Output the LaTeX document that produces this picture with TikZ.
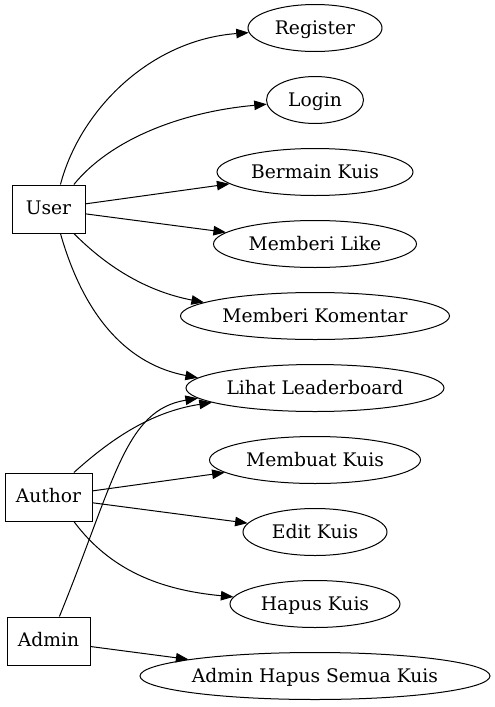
\documentclass[tikz,border=0pt]{standalone}
\usepackage{fontspec}
\setmainfont{DejaVu Serif}
\usetikzlibrary{shapes.geometric,arrows.meta}
\tikzset{
  actor/.style={draw, rectangle, line width=1pt, inner sep=0pt, minimum height=48pt, text height=13.5pt, text depth=2pt, font=\fontsize{18.7}{22}\selectfont},
  usecase/.style={draw, ellipse, line width=1pt, inner sep=0pt, minimum height=47pt, text height=14pt, text depth=2pt, font=\fontsize{18.7}{22}\selectfont},
  arr/.style={line width=1pt, -{Triangle[length=12.5pt,width=9.5pt]}}
}
\begin{document}
\begin{tikzpicture}[x=1pt,y=-1pt]
\useasboundingbox (0,0) rectangle (495,707);
% actors
\node[actor, minimum width=73pt] (user) at (48.5,209) {User};
\node[actor, minimum width=87pt] (author) at (48.5,497) {Author};
\node[actor, minimum width=83pt] (admin) at (48.5,641) {Admin};
% use cases
\node[usecase, minimum width=134pt] (reg) at (315,28) {Register};
\node[usecase, minimum width=97pt] (login) at (315,100) {Login};
\node[usecase, minimum width=196pt] (main) at (315,172) {Bermain Kuis};
\node[usecase, minimum width=203pt] (like) at (315,244) {Memberi Like};
\node[usecase, minimum width=269pt] (kom) at (315,316) {Memberi Komentar};
\node[usecase, minimum width=258pt] (lihat) at (315,388) {Lihat Leaderboard};
\node[usecase, minimum width=211pt] (buat) at (315,460) {Membuat Kuis};
\node[usecase, minimum width=144pt] (edit) at (315,532) {Edit Kuis};
\node[usecase, minimum width=170pt] (hapus) at (315,604) {Hapus Kuis};
\node[usecase, minimum width=350pt] (semua) at (315,676) {Admin Hapus Semua Kuis};
% user edges
\draw[arr] (user.64) .. controls (80,110) and (150,40) .. (reg.184);
\draw[arr] (user.44) .. controls (110,140) and (180,112) .. (login.185);
\draw[arr] (user) -- (main);
\draw[arr] (user) -- (like);
\draw[arr] (user.316) .. controls (110,270) and (150,292) .. (kom.173);
\draw[arr] (user.296) .. controls (85,320) and (130,365) .. (lihat.175);
% author edges
\draw[arr] (author.44) .. controls (110,440) and (150,412) .. (lihat.188);
\draw[arr] (author) -- (buat);
\draw[arr] (author) -- (edit);
\draw[arr] (author.316) .. controls (110,570) and (160,590) .. (hapus.175);
% admin edges
\draw[arr] (admin.66) .. controls (115,480) and (125,410) .. (lihat.185);
\draw[arr] (admin) -- (semua);
\end{tikzpicture}
\end{document}
